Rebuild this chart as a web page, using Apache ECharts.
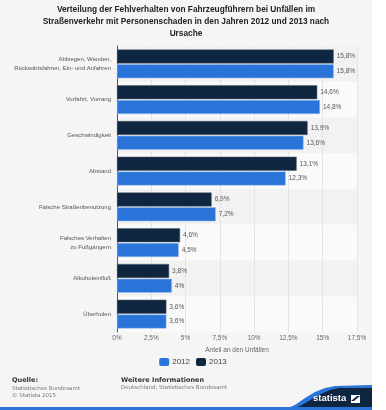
<!DOCTYPE html>
<html><head><meta charset="utf-8">
<script src="https://cdn.jsdelivr.net/npm/echarts@6/dist/echarts.min.js"></script>
<style>html,body{margin:0;padding:0;background:#fff}#c{width:386px;height:410px}</style>
</head><body><div id="c"></div>
<script>
const categories = [
  "Abbiegen, Wenden,\nRückwärtsfahren, Ein- und Anfahren",
  "Vorfahrt, Vorrang",
  "Geschwindigkeit",
  "Abstand",
  "Falsche Straßenbenutzung",
  "Falsches Verhalten\nzu Fußgängern",
  "Alkoholeinfluß",
  "Überholen"
];
const values2012 = [15.8, 14.8, 13.6, 12.3, 7.2, 4.5, 4, 3.6];
const values2013 = [15.8, 14.6, 13.9, 13.1, 6.9, 4.6, 3.8, 3.6];
const xTicks = [0, 2.5, 5, 7.5, 10, 12.5, 15, 17.5];

const fmt = v => String(v).replace('.', ',') + '%';
const FONT = 'Liberation Sans';
const chart = echarts.init(document.getElementById('c'));
const labelOpt = {show: true, position: 'right', distance: 3, fontSize: 6.5, color: '#555', fontFamily: FONT,
  formatter: p => fmt(p.value)};
const txt = (x, y, text, font, fill, extra) => ({type: 'text', z: 10, style: Object.assign({x: x, y: y, text: text, font: font, fill: fill}, extra || {})});
chart.setOption({
  backgroundColor: 'transparent',
  animation: false,
  textStyle: {fontFamily: FONT},
  graphic: [
    {type: 'rect', z: -10, shape: {x: 0, y: 0, width: 372, height: 410}, style: {fill: '#f5f5f5'}},
    txt(186, 4, 'Verteilung der Fehlverhalten von Fahrzeugführern bei Unfällen im\nStraßenverkehr mit Personenschaden in den Jahren 2012 und 2013 nach\nUrsache',
      'bold 8.3px "Liberation Sans"', '#222', {textAlign: 'center', lineHeight: 12}),
    txt(12, 377, 'Quelle:', 'bold 6.5px "DejaVu Sans"', '#333'),
    txt(12, 385, 'Statistisches Bundesamt\n© Statista 2015', '5.5px "DejaVu Sans"', '#777', {lineHeight: 7}),
    txt(121, 377, 'Weitere Informationen', 'bold 6.5px "DejaVu Sans"', '#333'),
    txt(121, 385, 'Deutschland; Statistisches Bundesamt', '5.5px "DejaVu Sans"', '#777'),
    {type: 'polygon', z: 5, shape: {points: [[283,410],[295,405],[305,398],[315,392],[325,388],[335,386],[372,385],[372,410]]}, style: {fill: '#2a73d9'}},
    {type: 'polygon', z: 6, shape: {points: [[291,410],[302,405],[312,399],[321,394],[330,390],[339,388],[372,388],[372,410]]}, style: {fill: '#0f2640'}},
    {type: 'rect', z: 7, shape: {x: 0, y: 407, width: 372, height: 3}, style: {fill: '#2a73d9'}},
    txt(313, 393, 'statista', 'bold 9.5px "Liberation Sans"', '#fff', {z: 8}),
    {type: 'polygon', z: 8, shape: {points: [[351, 395], [360, 395], [360, 403], [351, 403]]}, style: {fill: '#fff'}},
    {type: 'polygon', z: 9, shape: {points: [[351, 401], [357, 396], [360, 396], [354, 401]]}, style: {fill: '#0f2640'}}
  ],
  legend: {
    data: ['2012', '2013'], top: 353, left: 'center', itemWidth: 10, itemHeight: 8, itemGap: 6,
    icon: 'roundRect', itemStyle: {borderWidth: 0},
    textStyle: {fontSize: 8, color: '#444', fontFamily: FONT, padding: [0, 0, 0, -2]}
  },
  grid: {left: 117, right: 29, top: 46, bottom: 78, containLabel: false},
  xAxis: {
    type: 'value', min: 0, max: 17.5, interval: 2.5,
    name: 'Anteil an den Unfällen', nameLocation: 'middle', nameGap: 12,
    nameTextStyle: {fontSize: 6.5, color: '#666', fontFamily: FONT},
    axisLine: {show: false}, axisTick: {show: false},
    axisLabel: {fontSize: 6.5, color: '#666', margin: 3, fontFamily: FONT,
      formatter: v => xTicks.includes(v) ? fmt(v) : ''},
    splitLine: {lineStyle: {color: '#e4e4e4', width: 1}}
  },
  yAxis: {
    type: 'category', data: categories, inverse: true,
    axisLine: {lineStyle: {color: '#555', width: 1}}, axisTick: {show: false},
    axisLabel: {fontSize: 6, color: '#555', margin: 6, lineHeight: 9, fontFamily: FONT},
    splitArea: {show: true, areaStyle: {color: ['#f2f2f2', '#fafafa']}}
  },
  series: [
    {name: '2013', type: 'bar', data: values2013, barWidth: 14, barGap: '6%',
      itemStyle: {color: '#0f2640', borderColor: '#5a6470', borderWidth: 0.5}, label: labelOpt},
    {name: '2012', type: 'bar', data: values2012, barWidth: 14, barGap: '6%',
      itemStyle: {color: '#2a73d9', borderColor: '#9cc0f0', borderWidth: 0.5}, label: labelOpt}
  ]
});
</script></body></html>
